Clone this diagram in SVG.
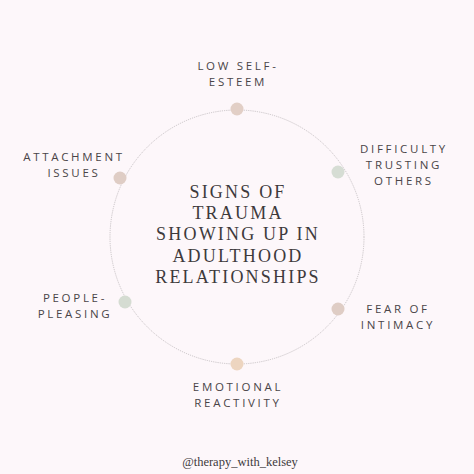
<svg xmlns="http://www.w3.org/2000/svg" width="474" height="474" viewBox="0 0 474 474">
<style>
.lbl{font-family:"Open Sans","Liberation Sans",sans-serif;font-size:11.5px;letter-spacing:2.7px;fill:#4a4548;text-anchor:middle}
.ttl{font-family:"Liberation Serif","DejaVu Serif",serif;font-size:18px;letter-spacing:2.2px;fill:#3e3a3c;text-anchor:middle}
.ring{fill:none;stroke:#bcb8ba;stroke-width:0.8;stroke-dasharray:1.2 1}
</style>
<rect width="474" height="474" fill="#fdf7fa"/>
<g id="connectors">
<circle class="ring" cx="237" cy="237" r="127"/>
</g>
<g id="center">
<text class="ttl" x="238" y="198">SIGNS OF</text>
<text class="ttl" x="238" y="219">TRAUMA</text>
<text class="ttl" x="238" y="240">SHOWING UP IN</text>
<text class="ttl" x="238" y="262">ADULTHOOD</text>
<text class="ttl" x="238" y="283">RELATIONSHIPS</text>
</g>
<g id="n-low-self-esteem">
<circle cx="237" cy="109" r="6.5" fill="#e2cfc6"/>
<text class="lbl" x="238" y="70">LOW SELF-</text>
<text class="lbl" x="238" y="86">ESTEEM</text>
</g>
<g id="n-difficulty-trusting">
<circle cx="338" cy="172" r="6.5" fill="#d6ddd4"/>
<text class="lbl" x="404" y="153">DIFFICULTY</text>
<text class="lbl" x="404" y="169">TRUSTING</text>
<text class="lbl" x="404" y="185">OTHERS</text>
</g>
<g id="n-attachment">
<circle cx="120" cy="178" r="6.5" fill="#dfcdc5"/>
<text class="lbl" x="74" y="161">ATTACHMENT</text>
<text class="lbl" x="74" y="177">ISSUES</text>
</g>
<g id="n-people-pleasing">
<circle cx="125" cy="302" r="6.5" fill="#d5dcd2"/>
<text class="lbl" x="75" y="302">PEOPLE-</text>
<text class="lbl" x="75" y="318">PLEASING</text>
</g>
<g id="n-fear-intimacy">
<circle cx="338" cy="309" r="6.5" fill="#dfcdc5"/>
<text class="lbl" x="398" y="313">FEAR OF</text>
<text class="lbl" x="398" y="329">INTIMACY</text>
</g>
<g id="n-emotional-reactivity">
<circle cx="237" cy="364" r="6.5" fill="#edd5c0"/>
<text class="lbl" x="238" y="391">EMOTIONAL</text>
<text class="lbl" x="238" y="407">REACTIVITY</text>
</g>
<text x="240" y="466" font-family="Liberation Serif,serif" font-size="12.5" fill="#3e3a3c" text-anchor="middle">@therapy_with_kelsey</text>
</svg>
